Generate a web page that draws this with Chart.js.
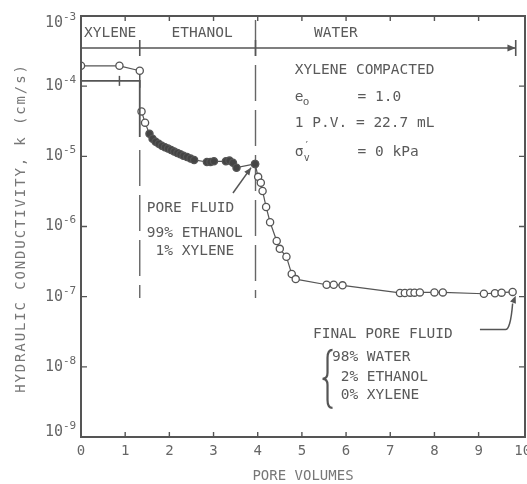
<!DOCTYPE html>
<html>
<head>
<meta charset="utf-8">
<script src="https://cdn.jsdelivr.net/npm/chart.js@4/dist/chart.umd.min.js"></script>
<style>
  html, body { margin: 0; padding: 0; background: #fff; }
</style>
</head>
<body>
<canvas id="kchart" width="527" height="484"></canvas>
<script>
// pore volumes / hydraulic conductivity (cm/s)
const xyleneVol = [0, 0.87, 1.33];
const xyleneK = [1.95e-4, 1.95e-4, 1.66e-4];

const stepVol = [0, 0.87, 1.33, 1.33];
const stepK = [1.19e-4, 1.19e-4, 1.19e-4, 1.89e-5];

const ethanolVol = [1.37, 1.45, 1.55, 1.62, 1.69, 1.76, 1.83, 1.90, 1.97, 2.04, 2.11, 2.18, 2.25,
                    2.32, 2.40, 2.48, 2.56, 2.85, 2.93, 3.01, 3.28, 3.36, 3.44, 3.52, 3.94];
const ethanolK = [4.37e-5, 3.02e-5, 2.09e-5, 1.78e-5, 1.62e-5, 1.51e-5, 1.41e-5, 1.35e-5, 1.29e-5,
                  1.23e-5, 1.17e-5, 1.12e-5, 1.07e-5, 1.02e-5, 9.8e-6, 9.3e-6, 8.9e-6, 8.3e-6,
                  8.3e-6, 8.5e-6, 8.5e-6, 8.7e-6, 8.1e-6, 6.9e-6, 7.8e-6];

const waterVol = [3.94, 4.01, 4.07, 4.11, 4.19, 4.28, 4.43, 4.50, 4.65, 4.77, 4.86, 5.56, 5.72, 5.92,
                  7.22, 7.33, 7.45, 7.55, 7.67, 8.00, 8.19, 9.12, 9.37, 9.52, 9.77];
const waterK = [7.8e-6, 5.1e-6, 4.2e-6, 3.2e-6, 1.9e-6, 1.15e-6, 6.2e-7, 4.8e-7, 3.7e-7, 2.1e-7,
                1.78e-7, 1.48e-7, 1.48e-7, 1.45e-7, 1.13e-7, 1.13e-7, 1.14e-7, 1.14e-7, 1.15e-7,
                1.15e-7, 1.15e-7, 1.10e-7, 1.12e-7, 1.14e-7, 1.17e-7];

// permeant phases along the top
const phaseVol = [0, 1.33, 3.95, 9.84];
const phaseK = [3.5e-4, 3.5e-4, 3.5e-4, 3.5e-4];
const phaseNames = ['XYLENE', 'ETHANOL', 'WATER'];
const phaseLabelVol = [0.66, 2.74, 5.77];

const xTicks = [0, 1, 2, 3, 4, 5, 6, 7, 8, 9, 10];
const yTicks = [1e-3, 1e-4, 1e-5, 1e-6, 1e-7, 1e-8, 1e-9];
const yTickExp = ['-3', '-4', '-5', '-6', '-7', '-8', '-9'];

const INK = '#555';
const MONO = '"DejaVu Sans Mono", monospace';

function pts(xs, ys) {
    return xs.map((x, i) => ({ x: x, y: ys[i] }));
}

function arrowHead(ctx, x0, y0, x1, y1, size) {
    const a = Math.atan2(y1 - y0, x1 - x0);
    ctx.beginPath();
    ctx.moveTo(x1, y1);
    ctx.lineTo(x1 - size * Math.cos(a - 0.4), y1 - size * Math.sin(a - 0.4));
    ctx.lineTo(x1 - size * Math.cos(a + 0.4), y1 - size * Math.sin(a + 0.4));
    ctx.closePath();
    ctx.fill();
}

const decor = {
    id: 'decor',
    afterDraw(chart) {
        const ctx = chart.ctx;
        const xs = chart.scales.x, ys = chart.scales.y;
        const area = chart.chartArea;
        const X = v => xs.getPixelForValue(v);
        const Y = k => ys.getPixelForValue(k);

        ctx.save();
        ctx.strokeStyle = INK;
        ctx.fillStyle = INK;

        // frame
        ctx.lineWidth = 2;
        ctx.strokeRect(area.left, area.top, area.right - area.left, area.bottom - area.top);

        // inward ticks
        ctx.lineWidth = 1.4;
        ctx.beginPath();
        xTicks.slice(1, -1).forEach(v => {
            ctx.moveTo(X(v), area.bottom); ctx.lineTo(X(v), area.bottom - 5);
            ctx.moveTo(X(v), area.top); ctx.lineTo(X(v), area.top + 5);
        });
        yTicks.slice(1, -1).forEach(k => {
            ctx.moveTo(area.left, Y(k)); ctx.lineTo(area.left + 6, Y(k));
            ctx.moveTo(area.right, Y(k)); ctx.lineTo(area.right - 6, Y(k));
        });
        ctx.stroke();

        // y tick labels 10^n
        ctx.fillStyle = '#666';
        ctx.textBaseline = 'middle';
        yTicks.forEach((k, i) => {
            let py = Y(k);
            py = Math.max(area.top + 7, Math.min(area.bottom - 5, py));
            ctx.font = '15px ' + MONO;
            ctx.textAlign = 'right';
            ctx.fillText('10', 63, py);
            ctx.font = '11px ' + MONO;
            ctx.textAlign = 'left';
            ctx.fillText(yTickExp[i], 63, py - 6);
        });

        // y axis title, widely spaced
        const yTitle = 'HYDRAULIC CONDUCTIVITY, k (cm/s)';
        ctx.save();
        ctx.fillStyle = '#777';
        ctx.font = '14px ' + MONO;
        ctx.textAlign = 'center';
        const step = 10.3;
        ctx.translate(21, 229 + step * yTitle.length / 2);
        ctx.rotate(-Math.PI / 2);
        for (let i = 0; i < yTitle.length; i++) {
            ctx.fillText(yTitle[i], i * step + step / 2, 0);
        }
        ctx.restore();

        // annotations
        ctx.fillStyle = '#5a5a5a';
        ctx.font = '14.5px ' + MONO;
        ctx.textAlign = 'center';
        ctx.textBaseline = 'middle';
        phaseNames.forEach((n, i) => ctx.fillText(n, X(phaseLabelVol[i]), Y(5.7e-4)));

        ctx.textAlign = 'left';
        const L = X(4.84), EQ = X(6.26);
        ctx.fillText('XYLENE COMPACTED', L, Y(1.7e-4));
        ctx.fillText('e', L, Y(7.0e-5));
        ctx.font = '11px ' + MONO;
        ctx.fillText('o', L + 8, Y(7.0e-5) + 5);
        ctx.font = '14.5px ' + MONO;
        ctx.fillText('= 1.0', EQ, Y(7.0e-5));
        ctx.fillText('1 P.V. = 22.7 mL', L, Y(2.99e-5));
        ctx.fillText('\u03c3', L, Y(1.15e-5));
        ctx.font = '10px ' + MONO;
        ctx.fillText('\u2032', L + 9, Y(1.15e-5) - 6);
        ctx.fillText('v', L + 9, Y(1.15e-5) + 6);
        ctx.font = '14.5px ' + MONO;
        ctx.fillText('= 0 kPa', EQ, Y(1.15e-5));

        const PL = X(1.49);
        ctx.fillText('PORE FLUID', PL, Y(1.84e-6));
        ctx.fillText('99% ETHANOL', PL, Y(8.1e-7));
        ctx.fillText(' 1% XYLENE', PL, Y(4.4e-7));

        ctx.fillText('FINAL PORE FLUID', X(5.25), Y(2.95e-8));
        const FL = X(5.68);
        ctx.fillText('98% WATER', FL, Y(1.35e-8));
        ctx.fillText(' 2% ETHANOL', FL, Y(7.2e-9));
        ctx.fillText(' 0% XYLENE', FL, Y(4.0e-9));

        // brace
        const bx = X(5.58), bTop = Y(1.75e-8), bBot = Y(2.6e-9), bMid = (bTop + bBot) / 2;
        ctx.lineWidth = 2.2;
        ctx.beginPath();
        ctx.moveTo(bx + 5, bTop);
        ctx.quadraticCurveTo(bx, bTop, bx, bTop + 8);
        ctx.lineTo(bx, bMid - 6);
        ctx.quadraticCurveTo(bx, bMid, bx - 5, bMid);
        ctx.quadraticCurveTo(bx, bMid, bx, bMid + 6);
        ctx.lineTo(bx, bBot - 8);
        ctx.quadraticCurveTo(bx, bBot, bx + 5, bBot);
        ctx.stroke();

        // arrows
        ctx.strokeStyle = INK;
        ctx.fillStyle = INK;
        ctx.lineWidth = 1.5;
        let ax0 = X(3.44), ay0 = Y(3.0e-6), ax1 = X(3.85), ay1 = Y(6.9e-6);
        ctx.beginPath(); ctx.moveTo(ax0, ay0); ctx.lineTo(ax1, ay1); ctx.stroke();
        arrowHead(ctx, ax0, ay0, ax1, ay1, 8);

        ctx.beginPath();
        ctx.moveTo(X(9.03), Y(3.4e-8));
        ctx.lineTo(X(9.6), Y(3.4e-8));
        ctx.quadraticCurveTo(X(9.72), Y(3.3e-8), X(9.77), Y(8.0e-8));
        ctx.stroke();
        arrowHead(ctx, X(9.77), Y(8.0e-8), X(9.84), Y(1.03e-7), 8);

        // end arrow of the phase line
        arrowHead(ctx, X(9.5), Y(3.5e-4), X(9.84), Y(3.5e-4), 9);

        ctx.restore();
    }
};

const circle = {
    showLine: true,
    borderColor: INK,
    borderWidth: 1.2,
    pointRadius: 3.6,
    pointBorderWidth: 1.3,
    pointBorderColor: INK,
    pointBackgroundColor: '#fff'
};

const chart = new Chart(document.getElementById('kchart').getContext('2d'), {
    type: 'scatter',
    data: {
        datasets: [
            Object.assign({ label: 'Xylene', data: pts(xyleneVol, xyleneK) }, circle),
            {
                label: 'Xylene step', data: pts(stepVol, stepK), showLine: true,
                borderColor: INK, borderWidth: 1.8,
                pointStyle: 'line', pointRotation: 90, pointRadius: [0, 5, 7, 0],
                pointBorderColor: INK, pointBorderWidth: 1.5
            },
            Object.assign({}, circle, {
                label: 'Ethanol', data: pts(ethanolVol, ethanolK),
                pointBackgroundColor: ethanolK.map((k, i) => i < 2 ? '#fff' : '#444')
            }),
            Object.assign({ label: 'Water', data: pts(waterVol, waterK) }, circle),
            {
                label: 'Phases', data: pts(phaseVol, phaseK), showLine: true,
                borderColor: INK, borderWidth: 1.6,
                pointStyle: 'line', pointRotation: 90, pointRadius: [0, 8, 8, 8],
                pointBorderColor: INK, pointBorderWidth: 1.6
            },
            {
                label: 'Boundary 1', data: pts([1.33, 1.33], [1.23e-5, 9.6e-8]), showLine: true,
                borderColor: '#666', borderWidth: 1.4, borderDash: [36, 9], pointRadius: 0
            },
            {
                label: 'Boundary 2', data: pts([3.95, 3.95], [8.8e-4, 9.6e-8]), showLine: true,
                borderColor: '#666', borderWidth: 1.4, borderDash: [36, 9], pointRadius: 0
            }
        ]
    },
    options: {
        responsive: false,
        animation: false,
        layout: { autoPadding: false, padding: { top: 16, right: 2, left: 0, bottom: 0 } },
        plugins: {
            legend: { display: false },
            tooltip: { enabled: false }
        },
        scales: {
            x: {
                type: 'linear',
                min: 0,
                max: 10.05,
                afterBuildTicks: scale => { scale.ticks = xTicks.map(v => ({ value: v })); },
                afterFit: scale => {
                    scale.height = 47;
                    scale.paddingLeft = 0;
                    scale.paddingRight = 0;
                },
                grid: { display: false, drawTicks: false },
                border: { display: false },
                ticks: {
                    padding: 6,
                    color: '#666',
                    font: { family: MONO, size: 14 },
                    maxRotation: 0,
                    callback: v => String(v)
                },
                title: {
                    display: true,
                    text: 'PORE VOLUMES',
                    color: '#777',
                    font: { family: MONO, size: 14 },
                    padding: { top: 0, bottom: -1 }
                }
            },
            y: {
                type: 'logarithmic',
                min: 1e-9,
                max: 1e-3,
                afterBuildTicks: scale => { scale.ticks = yTicks.map(v => ({ value: v })); },
                afterFit: scale => {
                    scale.width = 81;
                    scale.paddingTop = 0;
                    scale.paddingBottom = 0;
                },
                grid: { display: false, drawTicks: false },
                border: { display: false },
                ticks: { display: false }
            }
        }
    },
    plugins: [decor]
});
</script>
</body>
</html>
